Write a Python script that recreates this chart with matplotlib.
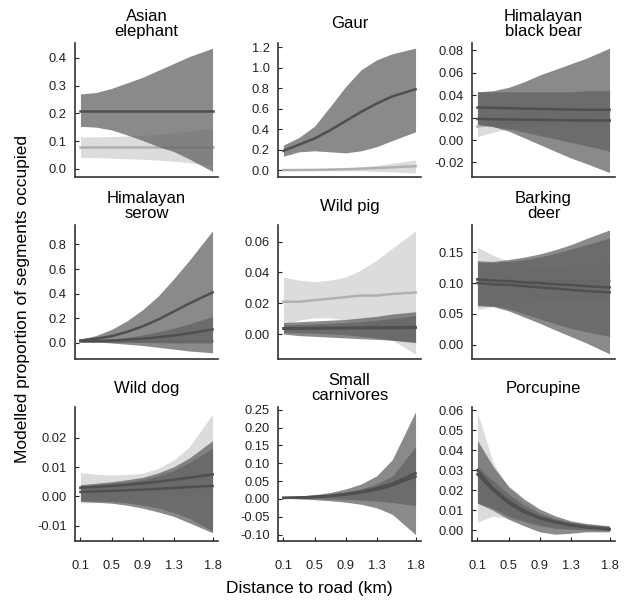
import matplotlib.pyplot as plt

plt.rcParams['font.family'] = ['Liberation Sans', 'DejaVu Sans']

dist = [0.1, 0.3, 0.5, 0.7, 0.9, 1.1, 1.3, 1.5, 1.8]
xticks = [0.1, 0.5, 0.9, 1.3, 1.8]

titles = ["Asian\nelephant", "Gaur", "Himalayan\nblack bear",
          "Himalayan\nserow", "Wild pig", "Barking\ndeer",
          "Wild dog", "Small\ncarnivores", "Porcupine"]

# each series: (kind, mean, lower, upper); kind "light" or "dark"
asian_light = ("light", [0.077] * 9,
               [0.04, 0.04, 0.038, 0.036, 0.034, 0.031, 0.027, 0.022, 0.01],
               [0.115, 0.115, 0.116, 0.118, 0.121, 0.125, 0.13, 0.136, 0.146])
asian_dark = ("dark", [0.21] * 9,
              [0.153, 0.15, 0.14, 0.122, 0.102, 0.08, 0.062, 0.035, -0.01],
              [0.27, 0.275, 0.29, 0.31, 0.33, 0.355, 0.38, 0.405, 0.435])

gaur_light = ("light", [0.002, 0.003, 0.004, 0.007, 0.011, 0.016, 0.022, 0.03, 0.04],
              [0.0, -0.001, -0.002, -0.003, -0.004, -0.006, -0.01, -0.015, -0.025],
              [0.005, 0.007, 0.01, 0.015, 0.022, 0.032, 0.048, 0.068, 0.10])
gaur_dark = ("dark", [0.19, 0.25, 0.31, 0.39, 0.48, 0.57, 0.65, 0.72, 0.79],
             [0.137, 0.18, 0.19, 0.18, 0.17, 0.19, 0.23, 0.29, 0.375],
             [0.245, 0.32, 0.43, 0.62, 0.815, 0.98, 1.076, 1.135, 1.19])

bear_light = ("light", [0.012, 0.014, 0.016, 0.017, 0.018, 0.018, 0.018, 0.018, 0.018],
              [0.003, 0.007, 0.01, 0.012, 0.013, 0.013, 0.013, 0.013, 0.013],
              [0.022, 0.024, 0.025, 0.026, 0.026, 0.026, 0.026, 0.026, 0.026])
bear_dark1 = ("dark", [0.029, 0.0288, 0.0285, 0.028, 0.0278, 0.0275, 0.0272, 0.027, 0.027],
              [0.014, 0.012, 0.008, 0.002, -0.004, -0.01, -0.016, -0.021, -0.029],
              [0.043, 0.044, 0.047, 0.052, 0.058, 0.063, 0.068, 0.073, 0.082])
bear_dark2 = ("dark", [0.0188, 0.0186, 0.0184, 0.0182, 0.018, 0.0178, 0.0176, 0.0175, 0.0173],
              [0.014, 0.012, 0.01, 0.007, 0.004, 0.001, -0.002, -0.005, -0.01],
              [0.043, 0.043, 0.043, 0.043, 0.043, 0.043, 0.043, 0.044, 0.044])

serow_light = ("light", [0.01, 0.01, 0.011, 0.011, 0.012, 0.012, 0.013, 0.013, 0.014],
               [0.004, 0.004, 0.004, 0.004, 0.004, 0.004, 0.004, 0.004, 0.004],
               [0.018, 0.018, 0.019, 0.019, 0.02, 0.021, 0.022, 0.023, 0.024])
serow_dark1 = ("dark", [0.02, 0.035, 0.055, 0.09, 0.135, 0.19, 0.255, 0.32, 0.41],
               [0.01, 0.008, 0.0, -0.01, -0.02, -0.035, -0.05, -0.065, -0.08],
               [0.03, 0.06, 0.11, 0.18, 0.27, 0.38, 0.52, 0.67, 0.91])
serow_dark2 = ("dark", [0.015, 0.016, 0.02, 0.026, 0.035, 0.046, 0.06, 0.078, 0.11],
               [0.01, 0.01, 0.008, 0.006, 0.004, 0.002, 0.0, 0.0, 0.0],
               [0.02, 0.025, 0.032, 0.045, 0.065, 0.09, 0.12, 0.155, 0.215])

pig_light = ("light", [0.021, 0.021, 0.022, 0.023, 0.024, 0.025, 0.025, 0.026, 0.027],
             [0.006, 0.009, 0.0105, 0.0105, 0.009, 0.006, 0.002, -0.004, -0.013],
             [0.037, 0.035, 0.034, 0.035, 0.037, 0.0416, 0.048, 0.0557, 0.067])
pig_dark1 = ("dark", [0.0037, 0.0038, 0.0039, 0.004, 0.0041, 0.0042, 0.0043, 0.0044, 0.0045],
             [0.001, 0.0008, 0.0005, 0.0, -0.0005, -0.0015, -0.0025, -0.004, -0.0056],
             [0.0075, 0.008, 0.0085, 0.009, 0.0095, 0.0105, 0.0115, 0.013, 0.0145])
pig_dark2 = ("dark", [0.0035, 0.0035, 0.0036, 0.0037, 0.0037, 0.0038, 0.0039, 0.0039, 0.004],
             [0.0, -0.001, -0.0015, -0.002, -0.0025, -0.003, -0.0035, -0.004, -0.005],
             [0.006, 0.0063, 0.0066, 0.007, 0.0075, 0.008, 0.009, 0.01, 0.012])

deer_light = ("light", [0.105, 0.105, 0.104, 0.104, 0.104, 0.103, 0.103, 0.103, 0.103],
              [0.057, 0.062, 0.066, 0.07, 0.072, 0.074, 0.075, 0.075, 0.075],
              [0.158, 0.145, 0.135, 0.128, 0.125, 0.125, 0.127, 0.13, 0.135])
deer_dark1 = ("dark", [0.106, 0.104, 0.103, 0.101, 0.1, 0.098, 0.097, 0.095, 0.093],
              [0.065, 0.063, 0.058, 0.05, 0.042, 0.034, 0.027, 0.021, 0.0135],
              [0.136, 0.135, 0.138, 0.142, 0.147, 0.154, 0.162, 0.172, 0.186])
deer_dark2 = ("dark", [0.1, 0.098, 0.097, 0.095, 0.093, 0.091, 0.089, 0.087, 0.085],
              [0.063, 0.062, 0.055, 0.045, 0.035, 0.024, 0.0135, 0.003, -0.0146],
              [0.134, 0.133, 0.135, 0.138, 0.142, 0.148, 0.155, 0.162, 0.173])

dog_light = ("light", [0.0028, 0.003, 0.0033, 0.0037, 0.0042, 0.0048, 0.0055, 0.0063, 0.0075],
             [-0.0023, -0.002, -0.0015, -0.001, -0.0005, 0.0, 0.0005, 0.001, 0.001],
             [0.0081, 0.0076, 0.0073, 0.0075, 0.0079, 0.0096, 0.0124, 0.0169, 0.028])
dog_dark1 = ("dark", [0.003, 0.0033, 0.0036, 0.004, 0.0045, 0.005, 0.0057, 0.0064, 0.0075],
             [-0.0015, -0.0015, -0.0018, -0.0022, -0.003, -0.004, -0.0055, -0.0075, -0.0118],
             [0.004, 0.0045, 0.005, 0.0057, 0.0065, 0.008, 0.0101, 0.0131, 0.019])
dog_dark2 = ("dark", [0.0015, 0.0017, 0.0019, 0.0021, 0.0023, 0.0026, 0.0029, 0.0032, 0.0036],
             [-0.0017, -0.002, -0.0023, -0.003, -0.004, -0.0053, -0.0068, -0.009, -0.0124],
             [0.0035, 0.004, 0.0045, 0.005, 0.0057, 0.007, 0.0088, 0.0115, 0.0165])

carn_dark1 = ("dark", [0.003, 0.004, 0.006, 0.009, 0.014, 0.021, 0.03, 0.043, 0.072],
              [0.002, 0.0, -0.002, -0.005, -0.009, -0.015, -0.025, -0.043, -0.1],
              [0.005, 0.008, 0.012, 0.018, 0.028, 0.042, 0.065, 0.11, 0.245])
carn_dark2 = ("dark", [0.003, 0.0038, 0.0055, 0.008, 0.012, 0.018, 0.026, 0.038, 0.063],
              [0.002, 0.0015, 0.001, 0.0, -0.001, -0.003, -0.006, -0.01, -0.019],
              [0.004, 0.006, 0.009, 0.013, 0.019, 0.028, 0.042, 0.064, 0.146])

porc_light = ("light", [0.03, 0.021, 0.0145, 0.0098, 0.0064, 0.0042, 0.0026, 0.0015, 0.0005],
              [0.004, 0.007, 0.006, 0.004, 0.002, 0.001, 0.0005, 0.0, 0.0],
              [0.059, 0.034, 0.021, 0.014, 0.009, 0.006, 0.004, 0.003, 0.002])
porc_dark1 = ("dark", [0.03, 0.021, 0.0145, 0.0098, 0.0064, 0.0042, 0.0026, 0.0015, 0.0005],
              [0.0136, 0.01, 0.0055, 0.0022, -0.0008, -0.002, -0.0015, -0.0008, -0.0008],
              [0.045, 0.032, 0.022, 0.0156, 0.0106, 0.0072, 0.0047, 0.0034, 0.0022])
porc_dark2 = ("dark", [0.028, 0.02, 0.0135, 0.009, 0.006, 0.004, 0.0025, 0.0015, 0.0005],
              [0.0136, 0.011, 0.007, 0.0045, 0.0025, 0.001, 0.0005, 0.0002, 0.0],
              [0.032, 0.025, 0.018, 0.0125, 0.0085, 0.0058, 0.004, 0.0028, 0.0018])

panels = [
    [asian_light, asian_dark],
    [gaur_light, gaur_dark],
    [bear_light, bear_dark1, bear_dark2],
    [serow_light, serow_dark1, serow_dark2],
    [pig_light, pig_dark1, pig_dark2],
    [deer_light, deer_dark1, deer_dark2],
    [dog_light, dog_dark1, dog_dark2],
    [carn_dark1, carn_dark2],
    [porc_light, porc_dark1, porc_dark2],
]

yticks = [
    [0.0, 0.1, 0.2, 0.3, 0.4],
    [0.0, 0.2, 0.4, 0.6, 0.8, 1.0, 1.2],
    [-0.02, 0.0, 0.02, 0.04, 0.06, 0.08],
    [0.0, 0.2, 0.4, 0.6, 0.8],
    [0.0, 0.02, 0.04, 0.06],
    [0.0, 0.05, 0.10, 0.15],
    [-0.01, 0.0, 0.01, 0.02],
    [-0.10, -0.05, 0.0, 0.05, 0.10, 0.15, 0.20, 0.25],
    [0.0, 0.01, 0.02, 0.03, 0.04, 0.05, 0.06],
]
ylims = [(-0.03, 0.454), (-0.065, 1.24), (-0.033, 0.0866),
         (-0.13, 0.957), (-0.0162, 0.0708), (-0.023, 0.194),
         (-0.0152, 0.0305), (-0.118, 0.258), (-0.0054, 0.0617)]
yfmt = ["%.1f", "%.1f", "%.2f", "%.1f", "%.2f", "%.2f", "%.2f", "%.2f", "%.2f"]

W, H = 626, 602
lefts = [75, 278, 472]
tops = [43, 225, 407]
aw, ah = 143, 134

fig = plt.figure(figsize=(W / 100, H / 100), dpi=100)

for i, series in enumerate(panels):
    r, c = divmod(i, 3)
    ax = fig.add_axes([lefts[c] / W, (H - tops[r] - ah) / H, aw / W, ah / H])

    # light band + line at the bottom, darker translucent bands over them
    for kind, mean, lo, hi in series:
        if kind == "light":
            ax.fill_between(dist, lo, hi, color="#dcdcdc", lw=0, zorder=1)
            ax.plot(dist, mean, color="#b0b0b0", lw=1.8, zorder=2)
        else:
            ax.fill_between(dist, lo, hi, color="#626262", alpha=0.74,
                            lw=0, zorder=3)
            ax.plot(dist, mean, color="#4f4f4f", lw=1.8, zorder=4)

    ax.set_xlim(0.03, 1.87)
    ax.set_ylim(*ylims[i])
    ax.set_yticks(yticks[i])
    ax.set_yticklabels([yfmt[i] % v for v in yticks[i]])
    ax.set_xticks(xticks)
    if r == 2:
        ax.set_xticklabels(["0.1", "0.5", "0.9", "1.3", "1.8"])
        ax.tick_params(axis="x", direction="in", length=3, pad=14)
    else:
        ax.tick_params(axis="x", length=0, labelbottom=False)
    ax.tick_params(axis="y", direction="in", length=3, pad=6)
    ax.tick_params(labelsize=9.3, colors="#222222")
    for s in ["top", "right"]:
        ax.spines[s].set_visible(False)
    for s in ["left", "bottom"]:
        ax.spines[s].set_color("#333333")
        ax.spines[s].set_linewidth(1.2)

    ax.text(0.5, 1 + 19 / ah, titles[i], transform=ax.transAxes,
            ha="center", va="center", fontsize=12, linespacing=1.05)

fig.text(309 / W, 1 - 588 / H, "Distance to road (km)", ha="center",
         va="center", fontsize=12.5)
fig.text(23 / W, 1 - 299 / H, "Modelled proportion of segments occupied",
         ha="center", va="center", rotation=90, fontsize=12.5)

fig.savefig("out.png", dpi=100)
